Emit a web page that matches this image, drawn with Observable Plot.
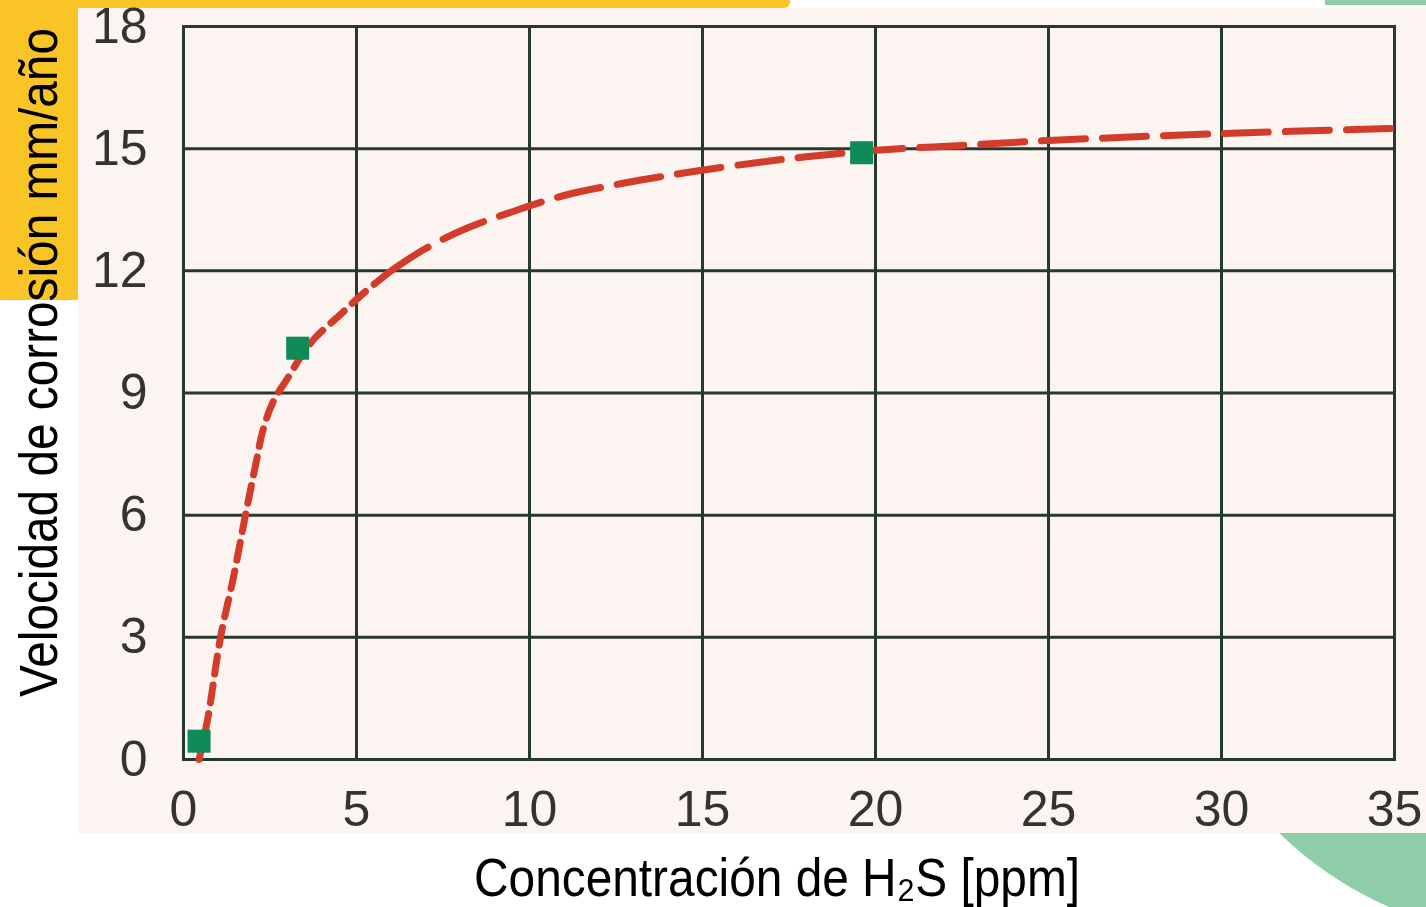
<!DOCTYPE html>
<html>
<head>
<meta charset="utf-8">
<script src="https://cdn.jsdelivr.net/npm/d3@7"></script>
<script src="https://cdn.jsdelivr.net/npm/@observablehq/plot@0.6"></script>
<style>
  html, body { margin: 0; padding: 0; background: #ffffff; }
  #page { position: relative; width: 1426px; height: 907px; overflow: hidden; background: #ffffff; }
  .shape { position: absolute; }
  #chart { position: absolute; left: 0; top: 0; }
</style>
</head>
<body>
<div id="page">
  <div class="shape" style="left:0;top:0;width:790px;height:8px;background:#f8c426;border-bottom-right-radius:6px;"></div>
  <div class="shape" style="left:0;top:0;width:78px;height:300px;background:#f8c426;"></div>
  <div class="shape" style="left:1325px;top:0;width:101px;height:5px;background:#8ecda8;"></div>
  <div class="shape" style="left:1164px;top:185px;width:754px;height:754px;border-radius:50%;background:#8ecda8;"></div>
  <div class="shape" style="left:78px;top:8px;width:1348px;height:825px;background:#fcf4f0;"></div>
  <div id="chart"></div>
</div>
<script>
// ---- data ----
const xTicks = [0, 5, 10, 15, 20, 25, 30, 35];
const yTicks = [0, 3, 6, 9, 12, 15, 18];

const markerX = [0.45, 3.3, 19.6];
const markerY = [0.45, 10.1, 14.9];

// steep part of the dashed curve
const steepX = [0.45, 0.7, 1.07, 1.45, 1.79, 2.1, 2.3, 2.6, 3.0, 3.4, 3.8, 4.5, 5.2, 6.0];
const steepY = [0.0, 1.0, 3.0, 4.5, 6.0, 7.3, 8.1, 8.8, 9.35, 9.9, 10.35, 10.9, 11.45, 12.0];
// flat part of the dashed curve
const flatX = [6.0, 7.0, 8.2, 9.5, 11.0, 12.7, 14.6, 16.5, 18.0, 20.0, 22.5, 25.0, 30.0, 35.0];
const flatY = [12.0, 12.55, 13.05, 13.45, 13.85, 14.15, 14.42, 14.65, 14.8, 14.96, 15.08, 15.2, 15.37, 15.5];

const xTitle = "Concentración de H₂S [ppm]";
const yTitle = "Velocidad de corrosión mm/año";

const steep = steepX.map((x, i) => ({x, y: steepY[i]}));
const flat = flatX.map((x, i) => ({x, y: flatY[i]}));
const markers = markerX.map((x, i) => ({x, y: markerY[i]}));

const gridColor = "#26392f";
const lineColor = "#d33c2b";

const chart = Plot.plot({
  width: 1426,
  height: 907,
  marginLeft: 183,
  marginRight: 32,
  marginTop: 26,
  marginBottom: 148,
  style: {background: "transparent", fontFamily: "'Liberation Sans', Arial, sans-serif", color: "#333333"},
  x: {domain: [0, 35]},
  y: {domain: [0, 18]},
  marks: [
    Plot.gridX(xTicks, {stroke: gridColor, strokeWidth: 3, strokeOpacity: 1}),
    Plot.gridY(yTicks, {stroke: gridColor, strokeWidth: 3, strokeOpacity: 1}),
    Plot.frame({stroke: gridColor, strokeWidth: 3}),
    Plot.axisX(xTicks, {tickSize: 0, tickPadding: 31, fontSize: 50, label: null, fill: "#333333"}),
    Plot.axisY(yTicks, {tickSize: 0, tickPadding: 36, fontSize: 50, label: null, fill: "#333333"}),
    Plot.line(steep, {x: "x", y: "y", curve: "catmull-rom", stroke: lineColor, strokeWidth: 7, strokeDasharray: "18,11"}),
    Plot.line(flat, {x: "x", y: "y", curve: "catmull-rom", stroke: lineColor, strokeWidth: 7, strokeDasharray: "44,17"}),
    Plot.dot(markers, {x: "x", y: "y", symbol: "square", r: 13, fill: "#0f8c56", stroke: "none"})
  ]
});

document.getElementById("chart").appendChild(chart);

const svg = d3.select(chart);
const titleFont = "'Liberation Sans', Arial, sans-serif";

svg.append("text")
  .attr("x", 474)
  .attr("y", 896)
  .attr("text-anchor", "start")
  .attr("font-family", titleFont)
  .attr("font-size", 54)
  .attr("textLength", 606)
  .attr("lengthAdjust", "spacingAndGlyphs")
  .attr("fill", "#000")
  .text(xTitle);

svg.append("text")
  .attr("transform", "translate(57,697) rotate(-90)")
  .attr("text-anchor", "start")
  .attr("font-family", titleFont)
  .attr("font-size", 53)
  .attr("textLength", 669)
  .attr("lengthAdjust", "spacingAndGlyphs")
  .attr("fill", "#000")
  .text(yTitle);
</script>
</body>
</html>
